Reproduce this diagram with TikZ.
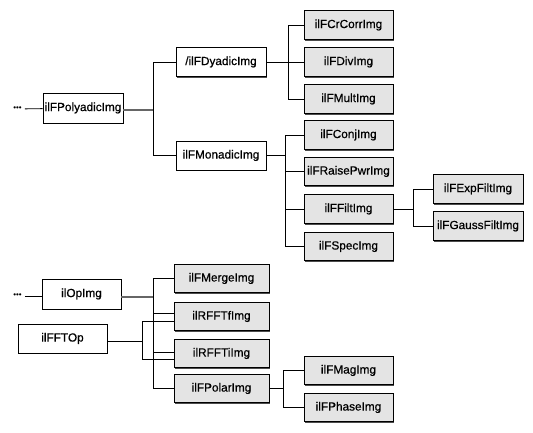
\documentclass[tikz,border=0pt]{standalone}
\usepackage{fontspec}
\setmainfont{Liberation Sans}
\newfontfamily\lblfont[FakeBold=0.6]{Liberation Sans}
\usetikzlibrary{shadows}
\definecolor{boxgray}{HTML}{E4E4E4}
\begin{document}
\begin{tikzpicture}[x=1pt,y=-1pt,
  box/.style={draw, line width=0.8pt, inner sep=0pt, minimum height=29pt, font=\lblfont\fontsize{11.8}{12}\selectfont, fill=white},
  sbox/.style={box, drop shadow={shadow xshift=1.4pt, shadow yshift=-1.4pt, opacity=1, fill=black!70}},
  gbox/.style={sbox, fill=boxgray, minimum height=28.5pt},
  wire/.style={line width=0.8pt},
  heavy/.style={line width=1.6pt, draw=black!60},
  dotsnode/.style={inner xsep=3pt, inner ysep=0pt, font=\fontsize{8}{8}\selectfont}]
\useasboundingbox (0,0) rectangle (533,433);
% upper tree
\node[dotsnode] (dots1) at (17.5,109) {•••};
\node[box, minimum width=80pt, minimum height=30pt] (poly) at (83,108) {ilFPolyadicImg};
\node[sbox, minimum width=90pt] (dyad) at (221,62) {/ilFDyadicImg};
\node[sbox, minimum width=90pt] (mona) at (221,155.5) {ilFMonadicImg};
\node[gbox, minimum width=89pt] (crcorr) at (348.5,25) {ilFCrCorrImg};
\node[gbox, minimum width=89pt] (div) at (348.5,62) {ilFDivImg};
\node[gbox, minimum width=89pt] (mult) at (348.5,99) {ilFMultImg};
\node[gbox, minimum width=89pt] (conj) at (348.5,135) {ilFConjImg};
\node[gbox, minimum width=89pt] (raise) at (348.5,171.5) {ilFRaisePwrImg};
\node[gbox, minimum width=89pt] (filt) at (348.5,209) {ilFFiltImg};
\node[gbox, minimum width=89pt] (spec) at (348.5,246.5) {ilFSpecImg};
\node[gbox, minimum width=90pt] (expf) at (478,189) {ilFExpFiltImg};
\node[gbox, minimum width=90pt] (gauss) at (478,226) {ilFGaussFiltImg};
\coordinate (j1) at (153,110);
\coordinate (jd) at (288,62);
\coordinate (jm) at (285.5,155.5);
\coordinate (jf) at (413.5,209);
\draw[wire] (dots1) -- (poly);
\draw[heavy] ([yshift=-2pt]poly.east) -- (j1);
\draw[wire] (j1) |- (dyad.west);
\draw[wire] (j1) |- (mona.west);
\draw[wire] (dyad.east) -- (div.west);
\draw[wire] (jd) |- (crcorr.west);
\draw[wire] (jd) |- (mult.west);
\draw[wire] (mona.east) -- (jm);
\draw[wire] (jm) |- (conj.west);
\draw[wire] (jm) |- (raise.west);
\draw[wire] (jm) |- (filt.west);
\draw[wire] (jm) |- (spec.west);
\draw[wire] (filt.east) -- (jf);
\draw[wire] (jf) |- (expf.west);
\draw[wire] (jf) |- (gauss.west);
% lower tree
\node[dotsnode] (dots2) at (17.5,296) {•••};
\node[box, minimum width=79pt, minimum height=30pt] (op) at (81.5,294) {ilOpImg};
\node[box, minimum width=89pt] (fftop) at (62.5,338.5) {ilFFTOp};
\node[gbox, minimum width=95pt] (merge) at (221.5,278.5) {ilFMergeImg};
\node[gbox, minimum width=95pt] (rfftf) at (221.5,316.5) {ilRFFTfImg};
\node[gbox, minimum width=95pt] (rffti) at (221.5,353.5) {ilRFFTiImg};
\node[gbox, minimum width=95pt] (polar) at (221.5,388.5) {ilFPolarImg};
\node[gbox, minimum width=89pt] (mag) at (348.5,370.5) {ilFMagImg};
\node[gbox, minimum width=89pt] (phase) at (348.5,407.5) {ilFPhaseImg};
\coordinate (jo) at (153,297);
\coordinate (jt) at (142,341);
\coordinate (jp) at (283,388.5);
\draw[wire] (dots2) -- ([yshift=-2pt]op.west);
\draw[heavy] ([yshift=-3pt]op.east) -- (jo);
\draw[wire] (jo) |- (merge.west);
\draw[wire] (jo) |- ([yshift=3.5pt]rfftf.west);
\draw[wire] (jo) |- ([yshift=1.5pt]rffti.west);
\draw[wire] (jo) |- (polar.west);
\draw[wire] ([yshift=-2.5pt]fftop.east) -- (jt);
\draw[wire] (jt) |- ([yshift=-4.5pt]rfftf.west);
\draw[wire] (jt) |- ([yshift=-5.5pt]rffti.west);
\draw[wire] (polar.east) -- (jp);
\draw[wire] (jp) |- (mag.west);
\draw[wire] (jp) |- (phase.west);
\end{tikzpicture}
\end{document}
